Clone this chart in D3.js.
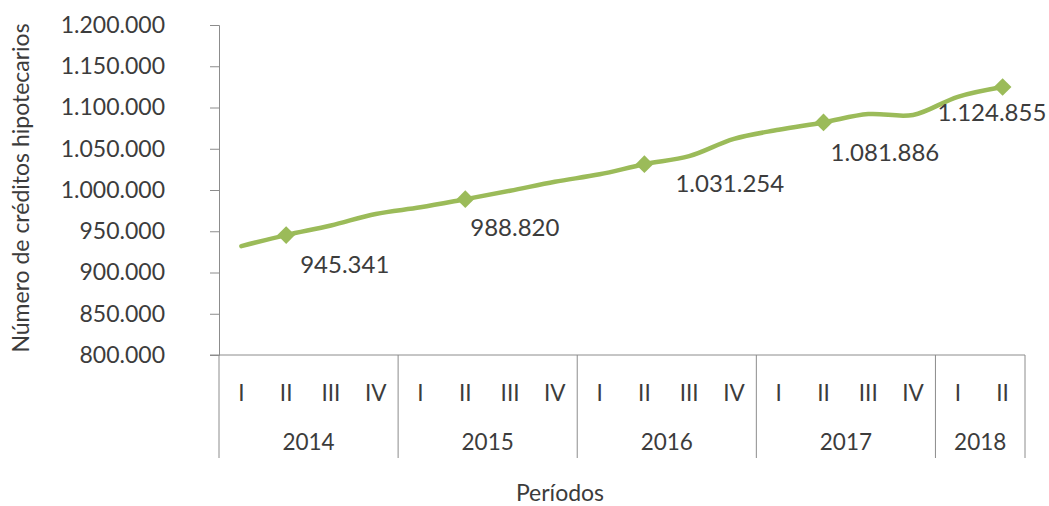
<!DOCTYPE html>
<html>
<head>
<meta charset="utf-8">
<script src="https://cdn.jsdelivr.net/npm/d3@7"></script>
<style>
  body { margin: 0; background: #fff; }
  svg text { font-family: Lato, "Open Sans", sans-serif; fill: #3c3c3c; }
</style>
</head>
<body>
<svg id="chart" width="1049" height="506"></svg>
<script>
// Número de créditos hipotecarios por trimestre, 2014-I a 2018-II
const years = ['2014', '2015', '2016', '2017', '2018'];
const quartersPerYear = [4, 4, 4, 4, 2];
const quarterNames = ['I', 'II', 'III', 'IV'];
const values = [
  932000, 945341, 957000, 971000,
  979000, 988820, 999000, 1010000,
  1019000, 1031254, 1041000, 1062000,
  1073000, 1081886, 1092000, 1091000,
  1113000, 1124855
];
const labelled = [1, 5, 9, 13, 17]; // quarters with marker + value label
const yTicks = [800000, 850000, 900000, 950000, 1000000, 1050000, 1100000, 1150000, 1200000];

// label offsets relative to the marker (placed by hand in the original)
const labelDx = [14, 5, 31, 7, -65];
const labelDy = [30, 28, 19, 30, 26];

const svg = d3.select('#chart');
const L = 219, R = 1025, T = 25, B = 355;
const green = '#9bbb59', axisCol = '#8c8c8c';

const quarters = [];
years.forEach((yr, i) => {
  for (let q = 0; q < quartersPerYear[i]; q++) quarters.push({ year: yr, q: quarterNames[q] });
});
const x = d3.scaleBand().domain(d3.range(quarters.length)).range([L, R]).padding(0);
const y = d3.scaleLinear().domain([800000, 1200000]).range([B, T]);
const fmt = v => d3.format(',')(v).replace(/,/g, '.');

// y axis
const ya = svg.append('g').attr('transform', `translate(${L},0)`)
  .call(d3.axisLeft(y).tickValues(yTicks).tickSize(9).tickPadding(45).tickFormat(fmt));
ya.select('.domain').attr('stroke', axisCol);
ya.selectAll('.tick line').attr('stroke', axisCol);
ya.selectAll('.tick text').attr('font-size', 23).attr('fill', '#3c3c3c')
  .style('font-family', 'Lato, "Open Sans", sans-serif');

// x axis baseline
svg.append('line').attr('x1', L - 9).attr('x2', R).attr('y1', B).attr('y2', B).attr('stroke', axisCol);

// year separators
let start = 0;
const bounds = [0];
quartersPerYear.forEach(n => { start += n; bounds.push(start); });
bounds.forEach(b => {
  const bx = b < quarters.length ? x(b) : x(quarters.length - 1) + x.bandwidth();
  svg.append('line').attr('x1', bx).attr('x2', bx).attr('y1', B).attr('y2', 458).attr('stroke', axisCol);
});

// quarter labels
svg.append('g').selectAll('text').data(quarters).join('text')
  .attr('x', (d, i) => x(i) + x.bandwidth() / 2)
  .attr('y', 393).attr('dy', '0.35em').attr('text-anchor', 'middle')
  .attr('font-size', 22.5).text(d => d.q);

// year labels
svg.append('g').selectAll('text').data(years).join('text')
  .attr('x', (d, i) => {
    const a = x(bounds[i]);
    const bEnd = bounds[i + 1] < quarters.length ? x(bounds[i + 1]) : R;
    return (a + bEnd) / 2;
  })
  .attr('y', 442).attr('dy', '0.35em').attr('text-anchor', 'middle')
  .attr('font-size', 22.5).text(d => d);

// axis titles
svg.append('text').attr('x', 560).attr('y', 501).attr('text-anchor', 'middle')
  .attr('font-size', 23).text('Períodos');
svg.append('text').attr('transform', 'translate(21,188) rotate(-90)').attr('dy', '0.35em')
  .attr('text-anchor', 'middle').attr('font-size', 23).text('Número de créditos hipotecarios');

// line
const cx = i => x(i) + x.bandwidth() / 2;
const line = d3.line().x((d, i) => cx(i)).y(d => y(d)).curve(d3.curveCatmullRom.alpha(0.5));
svg.append('path').attr('d', line(values)).attr('fill', 'none')
  .attr('stroke', green).attr('stroke-width', 4.5).attr('stroke-linecap', 'round');

// markers
svg.append('g').selectAll('path').data(labelled).join('path')
  .attr('d', d3.symbol(d3.symbolDiamond2, 200)())
  .attr('transform', i => `translate(${cx(i)},${y(values[i])})`)
  .attr('fill', green);

// value labels
svg.append('g').selectAll('text').data(labelled).join('text')
  .attr('x', (i, k) => cx(i) + labelDx[k])
  .attr('y', (i, k) => y(values[i]) + labelDy[k])
  .attr('dy', '0.35em').attr('font-size', 24).text(i => fmt(values[i]));
</script>
</body>
</html>
